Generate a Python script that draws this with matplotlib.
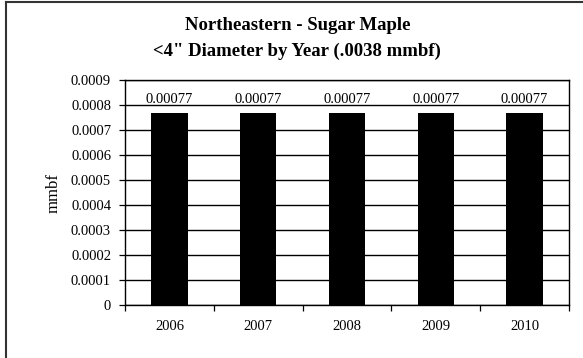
import matplotlib.pyplot as plt
from matplotlib.lines import Line2D
import numpy as np

years = ['2006', '2007', '2008', '2009', '2010']
volume = [0.00077, 0.00077, 0.00077, 0.00077, 0.00077]
value_labels = ['0.00077', '0.00077', '0.00077', '0.00077', '0.00077']
y_ticks = [0, 0.0001, 0.0002, 0.0003, 0.0004, 0.0005, 0.0006, 0.0007, 0.0008, 0.0009]
y_tick_labels = ['0', '0.0001', '0.0002', '0.0003', '0.0004', '0.0005',
                 '0.0006', '0.0007', '0.0008', '0.0009']

plt.rcParams['font.family'] = ['Liberation Serif', 'DejaVu Serif']

fig = plt.figure(figsize=(5.83, 3.58), dpi=100)
ax = fig.add_axes([0.2144, 0.148, 0.7616, 0.6285])

x = np.arange(len(years))
ax.bar(x, volume, width=0.41, color='black', zorder=3)

# value labels above each bar
for xi, v, lab in zip(x, volume, value_labels):
    ax.annotate(lab, (xi, v), xytext=(0, 5), textcoords='offset points',
                ha='center', va='bottom', fontsize=10.5)

ax.set_xlim(-0.5, len(years) - 0.5)
ax.set_ylim(0, 0.0009)
ax.set_yticks(y_ticks)
ax.set_yticklabels(y_tick_labels, fontsize=10.5)
ax.yaxis.grid(True, color='black', linewidth=1.0, zorder=0)
ax.tick_params(axis='y', direction='out', length=4, width=0.9, pad=6)

# ticks between categories, labels at centres
ax.set_xticks(np.arange(-0.5, len(years), 1.0))
ax.set_xticklabels([])
ax.tick_params(axis='x', which='major', direction='out', length=4, width=0.9)
ax.set_xticks(x, minor=True)
ax.set_xticklabels(years, minor=True, fontsize=10.5)
ax.tick_params(axis='x', which='minor', length=0, pad=11)

for s in ax.spines.values():
    s.set_color('black')
    s.set_linewidth(1.0)

ax.set_ylabel('mmbf', fontsize=12, labelpad=7)

fig.text(0.51, 0.928, 'Northeastern - Sugar Maple', ha='center', va='center',
         fontsize=13.5, fontweight='bold')
fig.text(0.51, 0.856, '<4" Diameter by Year (.0038 mmbf)', ha='center', va='center',
         fontsize=13.5, fontweight='bold')

# chart border (only left and top edges show)
fig.add_artist(Line2D([5.5 / 583, 5.5 / 583], [0, 1 - 2 / 358], transform=fig.transFigure,
                      color='#333333', linewidth=1.5))
fig.add_artist(Line2D([5.5 / 583, 1], [1 - 2 / 358, 1 - 2 / 358], transform=fig.transFigure,
                      color='#333333', linewidth=1.5))

fig.savefig('out.png', dpi=100)
